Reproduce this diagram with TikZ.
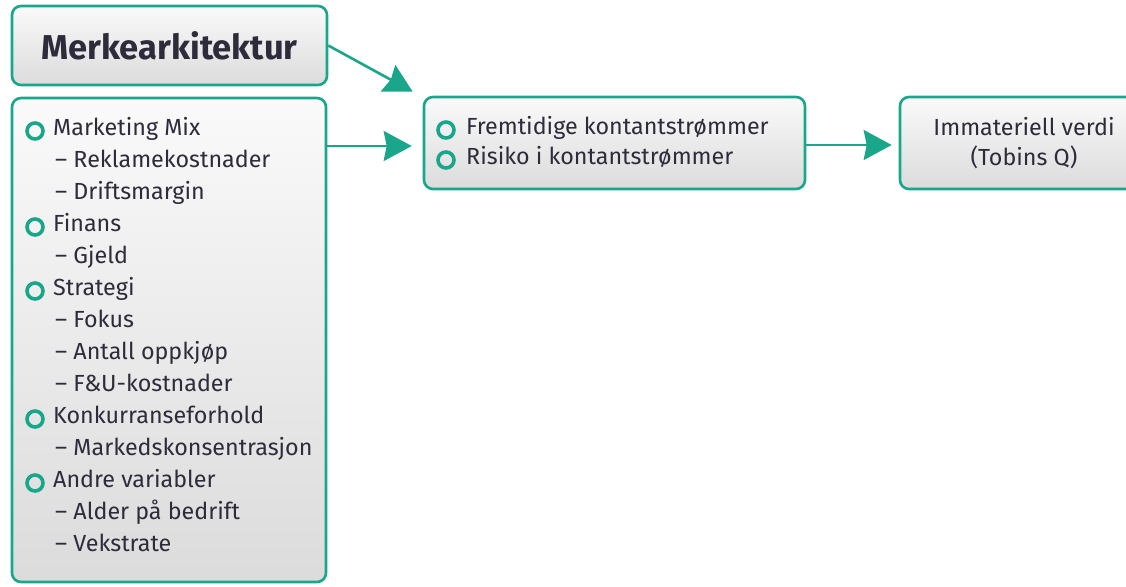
\documentclass[tikz,border=0pt]{standalone}
\usepackage{fontspec}
\setmainfont{Fira Sans}
\usetikzlibrary{arrows.meta,calc}
\definecolor{mteal}{HTML}{1AA68A}
\definecolor{ink}{HTML}{2E2B3A}
\begin{document}
\begin{tikzpicture}[x=1pt,y=-1pt,
  box/.style={draw=mteal, line width=2.6pt, rounded corners=9pt,
    top color=white!98!black, bottom color=white!86!black, inner sep=0pt},
  txt/.style={anchor=base west, inner sep=0pt, text=ink, font=\fontsize{23.3}{26}\selectfont},
  ctxt/.style={anchor=base, inner sep=0pt, text=ink, font=\fontsize{23.3}{26}\selectfont},
  bul/.style={draw=mteal, line width=3.6pt, circle, minimum size=16pt, inner sep=0pt},
  arr/.style={draw=mteal, line width=2.6pt, -{Stealth[length=28pt,width=30pt,inset=3pt]}}]
\useasboundingbox (0,0) rectangle (1126,586);
% boxes
\node[box, minimum width=315pt, minimum height=79pt, text=ink,
  font=\fontsize{34.5}{38}\selectfont\bfseries] (title) at (169.5,45.5) {Merkearkitektur};
\node[box, minimum width=314pt, minimum height=484pt] (list) at (169,340) {};
\node[box, minimum width=381pt, minimum height=92pt] (mid) at (614.5,143) {};
\node[box, minimum width=248pt, minimum height=92pt] (right) at (1024,143) {};
% list content
\foreach \i/\t in {0/Marketing Mix,3/Finans,5/Strategi,9/Konkurranseforhold,11/Andre variabler}{
  \node[bul] (b\i) at (35,{131+32*\i}) {};
  \node[txt] (t\i) at (53,{135+32*\i}) {\t};
}
\foreach \i/\t in {1/Reklamekostnader,2/Driftsmargin,4/Gjeld,6/Fokus,7/Antall oppkjøp,8/F\&U-kostnader,10/Markedskonsentrasjon,12/Alder på bedrift,13/Vekstrate}{
  \node[txt] (t\i) at (55,{135+32*\i}) {– \t};
}
% middle content
\node[bul] (mb1) at (446,130) {};
\node[txt] (m1) at (466,134) {Fremtidige kontantstrømmer};
\node[bul] (mb2) at (446,160) {};
\node[txt] (m2) at (466,164) {Risiko i kontantstrømmer};
% right content
\node[ctxt] (r1) at (1024,135) {Immateriell verdi};
\node[ctxt] (r2) at (1024,165) {(Tobins Q)};
% arrows
\coordinate (tip1) at ($(mid.north west)+(-10,-4)$);
\draw[arr] (title.east) -- (tip1);
\draw[arr, shorten >=11pt] (list.east |- 0,146) -- (mid.west |- 0,146);
\draw[arr, shorten >=7pt] (mid.east |- 0,145) -- (right.west |- 0,145);
\end{tikzpicture}
\end{document}
